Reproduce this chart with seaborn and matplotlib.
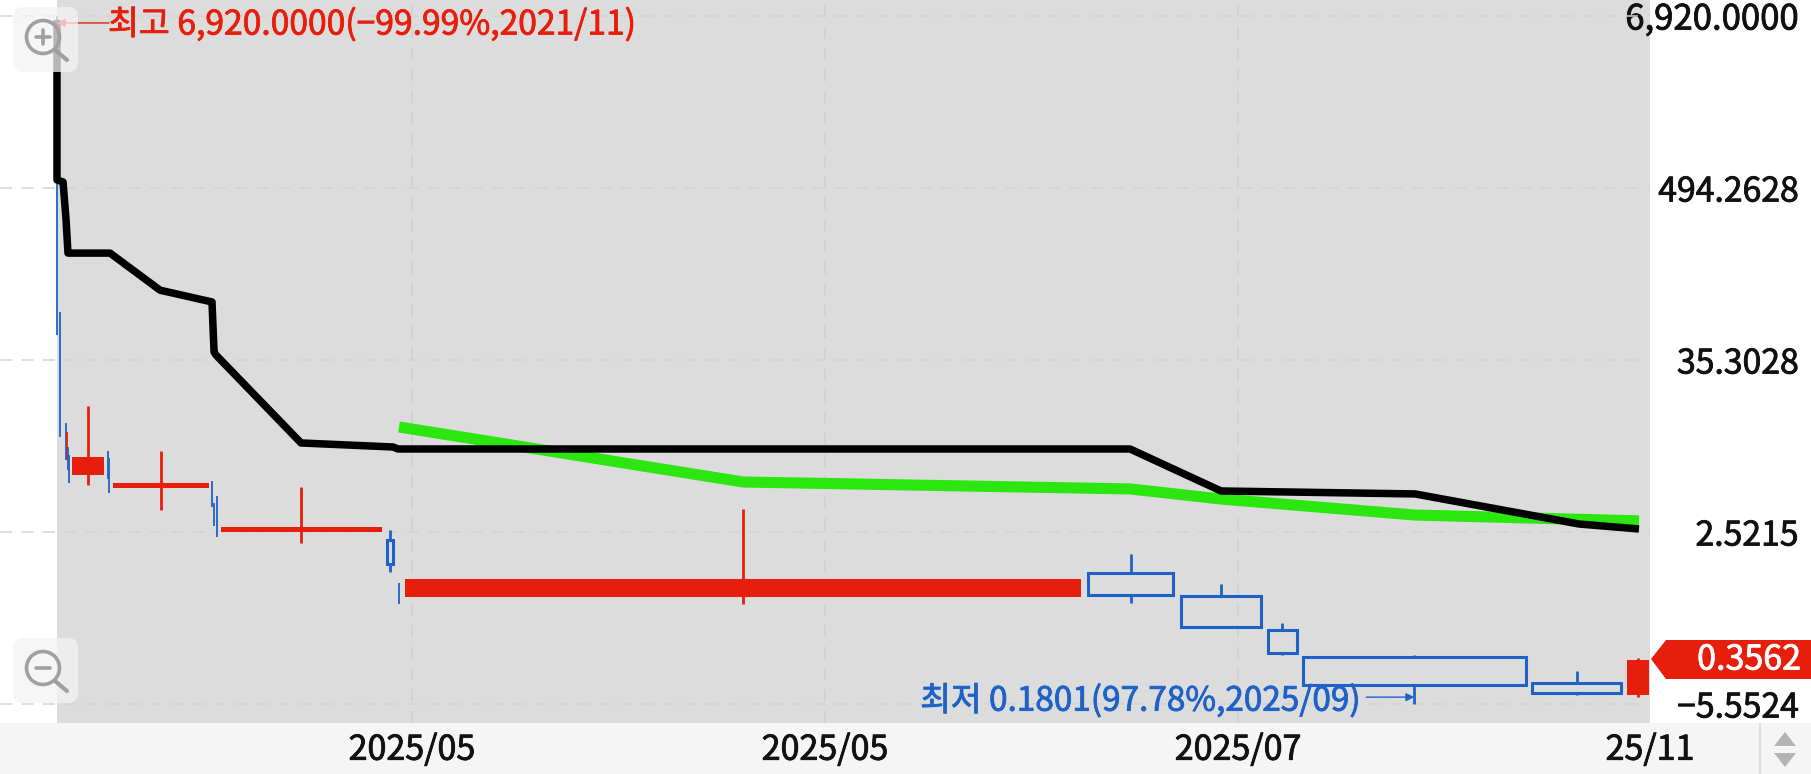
import matplotlib
matplotlib.use("Agg")
import matplotlib.pyplot as plt
import matplotlib.patheffects as pe
from matplotlib.patches import Circle, FancyBboxPatch, Polygon, Rectangle
from matplotlib.ticker import FixedLocator, NullLocator
import pandas as pd
import seaborn as sns

sns.set_theme(style="white")
plt.rcParams["font.family"] = ["Noto Sans CJK KR", "DejaVu Sans"]

RED = "#e81e0c"
BLUE = "#1e62c8"

# x is cumulative volume share (equivolume chart), y is price on a log axis
black_x = [0, 0, 0.38, 0.56, 0.69, 3.33, 6.47, 9.73, 9.86, 9.98, 15.32, 21.09, 21.41, 67.36, 73.07, 85.25, 95.54, 99.31]
black_y = [6507, 559, 542, 312, 182, 182, 103, 86.0, 39.9, 38.1, 9.88, 9.29, 9.01, 9.01, 4.73, 4.52, 2.85, 2.64]
green_x = [21.47, 43.06, 67.36, 73.07, 85.25, 99.31]
green_y = [12.63, 5.43, 4.88, 4.18, 3.27, 2.99]

# wide candles: left, right, centre, open, close, high, low
cand_left = [0.94, 3.52, 10.30, 20.72, 21.85, 64.72, 70.55, 76.0, 78.2, 92.62, 98.55]
cand_right = [2.95, 9.54, 20.40, 21.09, 64.28, 70.05, 75.55, 77.85, 92.2, 98.18, 99.95]
cand_mid = [1.95, 6.53, 15.32, 20.90, 43.06, 67.4, 73.05, 76.9, 85.2, 95.4, 99.25]
cand_top = [7.97, 5.35, 2.72, 2.23, 1.23, 1.34, 0.945, 0.561, 0.371, 0.249, 0.3562]
cand_bot = [6.05, 4.95, 2.52, 1.54, 0.930, 0.959, 0.587, 0.394, 0.241, 0.213, 0.207]
cand_high = [17.43, 8.74, 5.03, 2.60, 3.59, 1.80, 1.14, 0.624, 0.382, 0.299, 0.362]
cand_low = [5.19, 3.54, 2.13, 1.37, 0.836, 0.849, 0.587, 0.382, 0.1801, 0.207, 0.2006]
cand_up = [True, True, True, False, True, False, False, False, False, False, True]

# very thin candles, only the wick can be seen
thin_x = [0, 0.19, 0.56, 0.63, 0.69, 0.75, 3.20, 3.26, 9.73, 9.86, 10.04, 21.47]
thin_high = [6920, 73.8, 13.4, 11.7, 9.29, 8.22, 8.74, 7.85, 5.51, 3.94, 4.38, 1.15]
thin_low = [51.8, 10.8, 7.61, 7.61, 6.53, 5.35, 5.69, 4.59, 3.70, 2.77, 2.34, 0.836]
thin_up = [False, False, False, True, False, False, False, False, False, False, False, False]

y_ticks = [6920.0, 494.2628, 35.3028, 2.5215, 0.1801]
y_labels = ["6,920.0000", "494.2628", "35.3028", "2.5215", "−5.5524"]
x_ticks = [22.28, 48.21, 74.14, 100.0]
x_labels = ["2025/05", "2025/05", "2025/07", "25/11"]

high_text = "최고 6,920.0000(−99.99%,2021/11)"
low_text = "최저 0.1801(97.78%,2025/09)"
last_price = "0.3562"

W, H = 1811, 774
fig = plt.figure(figsize=(W / 100, H / 100), dpi=100, facecolor="white")
ax = fig.add_axes([57 / W, 1 - 723 / H, (1650 - 57) / W, 723 / H])
ax.set_facecolor("#dcdcdc")
ax.set_yscale("log")
ax.set_xlim(0, 100)
ax.set_ylim(0.1345, 8843)
for s in ax.spines.values():
    s.set_visible(False)


def heavier(color, width=0.6):
    # the font has no medium weight here, so thicken the regular one
    return [pe.withStroke(linewidth=width, foreground=color)]


fig.add_artist(Rectangle((0, 0), 1, 51 / H, transform=fig.transFigure, color="#f5f5f5", zorder=-1))
fig.add_artist(Rectangle((1759 / W, 0), 1 / W, 51 / H, transform=fig.transFigure, color="#dddddd", zorder=-1))

# grid, the horizontal lines carry on over the white margin
trans = ax.get_yaxis_transform()
for t in y_ticks:
    ax.plot([-57 / 1593, 1], [t, t], transform=trans, clip_on=False, color="#d4d4d4", lw=1.1,
            dashes=(8, 6), zorder=1)
for t in x_ticks[:-1]:
    ax.axvline(t, color="#cfcfcf", lw=1.1, dashes=(8, 6), zorder=1)

# candles
for i in range(len(thin_x)):
    ax.vlines(thin_x[i], thin_low[i], thin_high[i], color=RED if thin_up[i] else BLUE, lw=1.3, zorder=3,
              clip_on=False)

for i in range(len(cand_left)):
    width = cand_right[i] - cand_left[i]
    height = cand_top[i] - cand_bot[i]
    if cand_up[i]:
        ax.vlines(cand_mid[i], cand_low[i], cand_high[i], color=RED, lw=2, zorder=3)
        ax.bar(cand_left[i], height, width, bottom=cand_bot[i], align="edge", color=RED, lw=0, zorder=3)
    else:
        ax.vlines(cand_mid[i], cand_top[i], cand_high[i], color=BLUE, lw=2, zorder=3)
        ax.vlines(cand_mid[i], cand_low[i], cand_bot[i], color=BLUE, lw=2, zorder=3)
        ax.bar(cand_left[i], height, width, bottom=cand_bot[i], align="edge", facecolor="none",
               edgecolor=BLUE, lw=2.2, zorder=3)

# moving average lines
black_df = pd.DataFrame({"x": black_x, "y": black_y})
green_df = pd.DataFrame({"x": green_x, "y": green_y})
sns.lineplot(data=green_df, x="x", y="y", ax=ax, sort=False, estimator=None, color="#2be60f", lw=8,
             solid_capstyle="butt", zorder=4)
sns.lineplot(data=black_df, x="x", y="y", ax=ax, sort=False, estimator=None, color="black", lw=5.4,
             solid_capstyle="butt", zorder=5, clip_on=False)
ax.set_xlabel("")
ax.set_ylabel("")

# axis labels
ax.yaxis.tick_right()
ax.yaxis.set_major_locator(FixedLocator(y_ticks))
ax.yaxis.set_minor_locator(NullLocator())
ax.set_yticklabels(y_labels, fontsize=24.3, color="#111111", ha="right", path_effects=heavier("#111111"))
ax.tick_params(axis="y", which="both", length=0, pad=107)
ax.get_yticklabels()[0].set_fontsize(25)
ax.set_xticks(x_ticks)
ax.set_xticklabels(x_labels, fontsize=24.5, color="#111111", path_effects=heavier("#111111"))
ax.tick_params(axis="x", length=0, pad=7)

# high and low notes
ax.annotate("", xy=(0, 6218), xytext=(52, 0), textcoords="offset pixels",
            arrowprops=dict(arrowstyle="-|>", color=RED, lw=1, mutation_scale=12, shrinkA=0, shrinkB=0),
            annotation_clip=False, zorder=7)
ax.annotate(high_text, xy=(0, y_ticks[0]), xytext=(51, -9), textcoords="offset pixels", color=RED,
            fontsize=24.2, va="center", ha="left", zorder=7, path_effects=heavier(RED))
ax.annotate("", xy=(85.2, 0.2), xytext=(-48, 0), textcoords="offset pixels",
            arrowprops=dict(arrowstyle="-|>", color=BLUE, lw=1, mutation_scale=12, shrinkA=0, shrinkB=0), zorder=7)
ax.annotate(low_text, xy=(85.2, 0.2), xytext=(-55, -4), textcoords="offset pixels", color=BLUE,
            fontsize=24, va="center", ha="right", zorder=7, path_effects=heavier(BLUE))

# overlay in pixels for the chart's widgets
ov = fig.add_axes([0, 0, 1, 1], zorder=5)
ov.set_xlim(0, W)
ov.set_ylim(H, 0)
ov.axis("off")
ov.patch.set_alpha(0)

ov.add_patch(Polygon([(1651, 659), (1666, 640), (1811, 640), (1811, 679), (1666, 679)], color=RED, lw=0))
ov.text(1801, 660, last_price, color="white", fontsize=24.5, ha="right", va="center",
        path_effects=heavier("white"))

for top, cy, plus in [(7, 37, True), (638, 668, False)]:
    ov.add_patch(FancyBboxPatch((17, top + 4), 57, 57, boxstyle="round,pad=4,rounding_size=10",
                                facecolor="#f4f4f4", edgecolor="none", alpha=0.75))
    ov.add_patch(Circle((43, cy), 16.5, facecolor="none", edgecolor="#a0a0a0", lw=2.6))
    ov.plot([55, 67], [cy + 13, cy + 23], color="#a0a0a0", lw=3, solid_capstyle="round")
    ov.plot([36, 50], [cy, cy], color="#a0a0a0", lw=2.6)
    if plus:
        ov.plot([43, 43], [cy - 7, cy + 7], color="#a0a0a0", lw=2.6)

ov.add_patch(Polygon([(1785, 732), (1774, 746), (1796, 746)], color="#b4b4b4", lw=0))
ov.add_patch(Polygon([(1785, 767), (1774, 753), (1796, 753)], color="#b4b4b4", lw=0))

fig.savefig("out.png", dpi=100)
